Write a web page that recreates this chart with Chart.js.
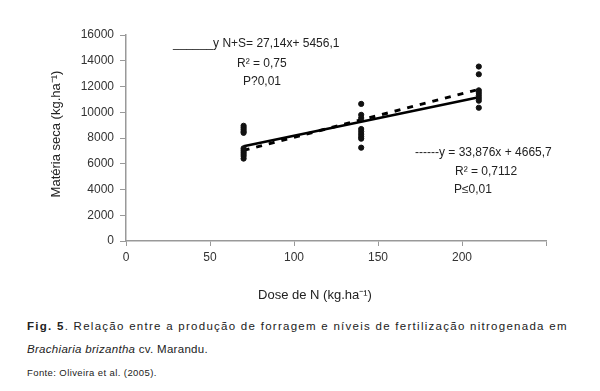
<!DOCTYPE html>
<html>
<head>
<meta charset="utf-8">
<script src="https://cdn.jsdelivr.net/npm/chart.js@4"></script>
<style>
  body { margin: 0; background: #fff; width: 600px; height: 391px; position: relative; overflow: hidden; }
  #wrap { position: absolute; left: 0; top: 0; width: 600px; height: 310px; }
  .cap { position: absolute; left: 27px; font-family: "Liberation Sans", Arial, sans-serif; color: #222; white-space: nowrap; }
  #l1 { top: 320px; font-size: 11.5px; letter-spacing: 1.27px; }
  #l2 { top: 343px; font-size: 11.5px; letter-spacing: 0.3px; }
  #l3 { top: 367px; font-size: 9.5px; letter-spacing: 0.4px; }
</style>
</head>
<body>
<div id="wrap"><canvas id="chart" width="600" height="310"></canvas></div>
<div class="cap" id="l1"><b>Fig. 5</b>. Relação entre a produção de forragem e níveis de fertilização nitrogenada em</div>
<div class="cap" id="l2"><i>Brachiaria brizantha</i> cv. Marandu.</div>
<div class="cap" id="l3">Fonte: Oliveira et al. (2005).</div>
<script>
const doses = [70, 140, 210];
const obs70 = [8950, 8800, 8650, 8500, 8400, 7200, 7050, 6900, 6750, 6600, 6400];
const obs140 = [10650, 9800, 9550, 8700, 8500, 8300, 8100, 7950, 7250];
const obs210 = [13550, 12950, 11700, 11500, 11300, 11100, 10900, 10350];

// trend line end points (x = 70 and x = 210)
const trendX = [70, 210];
const trendSolid = [7360, 11160];
const trendDashed = [7040, 11780];

const xTicks = [0, 50, 100, 150, 200, 250];
const yTicks = [0, 2000, 4000, 6000, 8000, 10000, 12000, 14000, 16000];

const font = "'Liberation Sans', Arial, sans-serif";

const points = [];
[obs70, obs140, obs210].forEach((vals, i) => {
  vals.forEach((v) => points.push({ x: doses[i], y: v }));
});

const textPlugin = {
  id: "texts",
  afterDraw(chart) {
    const c = chart.ctx;
    c.save();
    c.fillStyle = "#222";
    c.font = "12px " + font;
    c.textBaseline = "alphabetic";
    c.textAlign = "left";
    c.fillText("______y N+S= 27,14x+ 5456,1", 173, 47);
    c.fillText("R² = 0,75", 237, 67);
    c.fillText("P?0,01", 243, 85);
    c.fillText("------y = 33,876x + 4665,7", 415, 156);
    c.fillText("R² = 0,7112", 455, 175);
    c.fillText("P≤0,01", 454, 193);

    c.font = "13px " + font;
    c.textAlign = "center";
    c.textBaseline = "middle";
    c.fillText("Dose de N (kg.ha⁻¹)", 315, 295);
    c.translate(56, 134);
    c.rotate(-Math.PI / 2);
    c.fillText("Matéria seca (kg.ha⁻¹)", 0, 0);
    c.restore();
  },
};

new Chart(document.getElementById("chart"), {
  type: "scatter",
  data: {
    datasets: [
      {
        label: "obs",
        data: points,
        backgroundColor: "#111",
        borderColor: "#111",
        pointRadius: 2.6,
      },
      {
        label: "N+S",
        data: trendX.map((x, i) => ({ x: x, y: trendSolid[i] })),
        showLine: true,
        borderColor: "#000",
        borderWidth: 2.5,
        pointRadius: 0,
      },
      {
        label: "N",
        data: trendX.map((x, i) => ({ x: x, y: trendDashed[i] })),
        showLine: true,
        borderColor: "#000",
        borderWidth: 3,
        borderDash: [6, 7],
        pointRadius: 0,
      },
    ],
  },
  options: {
    responsive: false,
    animation: false,
    layout: { padding: { left: 0, right: 54, top: 35, bottom: 0 } },
    plugins: { legend: { display: false }, tooltip: { enabled: false } },
    scales: {
      x: {
        type: "linear",
        min: 0,
        max: 250,
        afterBuildTicks: (s) => { s.ticks = xTicks.map((v) => ({ value: v })); },
        afterFit: (s) => { s.height = 69; },
        grid: { drawOnChartArea: false, color: "#999", tickLength: 5 },
        border: { color: "#999", width: 1.5 },
        ticks: {
          color: "#333",
          font: { family: font, size: 12 },
          padding: 4,
          callback: (v) => (v === 250 ? "" : String(v)),
        },
      },
      y: {
        min: 0,
        max: 16000,
        afterBuildTicks: (s) => { s.ticks = yTicks.map((v) => ({ value: v })); },
        afterFit: (s) => { s.width = 126; },
        grid: { drawOnChartArea: false, color: "#999", tickLength: 6 },
        border: { color: "#999", width: 1.5 },
        ticks: {
          color: "#333",
          font: { family: font, size: 12 },
          padding: 6,
          callback: (v) => String(v),
        },
      },
    },
  },
  plugins: [textPlugin],
});
</script>
</body>
</html>
